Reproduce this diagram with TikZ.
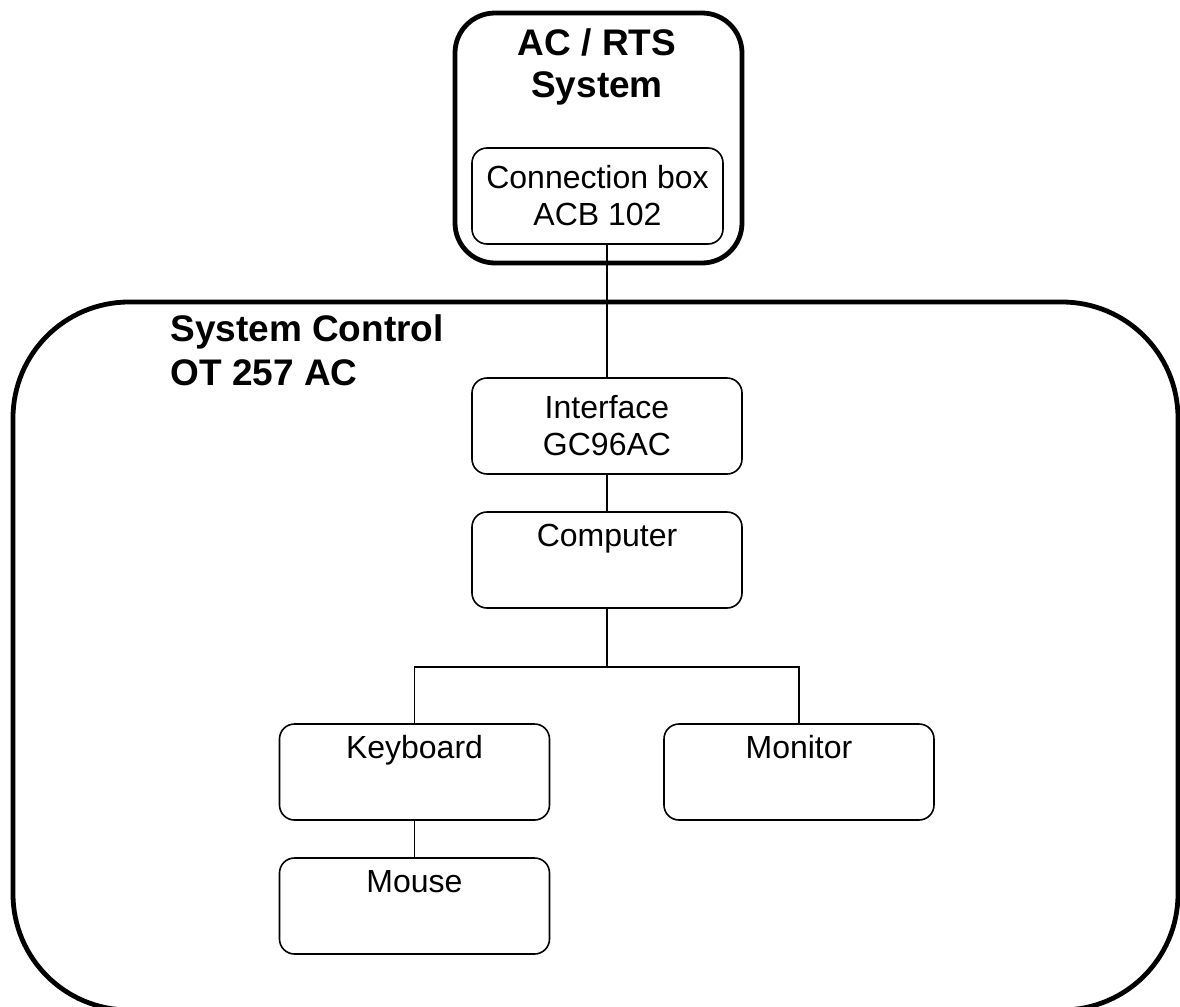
\documentclass[tikz,border=0pt]{standalone}
\usepackage{fontspec}
\setmainfont{Liberation Sans}

\begin{document}
\begin{tikzpicture}[
            x=0.5pt, y=-0.5pt,
            every node/.append style={black},
            link/.style={draw, line width=0.8pt},
            box/.style={draw, line width=0.8pt, rounded corners=7.5pt,
                        minimum width=135pt, minimum height=48pt, align=center,
                        font=\fontsize{16pt}{18.5pt}\selectfont},
            unit/.style={box, inner ysep=0pt, text height=17.3pt, text depth=30.7pt},
            frame/.style={draw, line width=2.4pt},
            title/.style={inner sep=0pt, font=\fontsize{18.5pt}{21pt}\selectfont\bfseries}
        ]
            \useasboundingbox (0,0) rectangle (1180,1007);

            % AC / RTS system with its connection box
            \node[frame, rounded corners=20pt, minimum width=143.5pt, minimum height=125pt] (rts) at (598.5,138) {};
            \node[title, align=center] (rtsname) at (597,67) {AC / RTS\\System};
            \node[box, minimum width=125.5pt] (conn) at (597.5,196) {Connection box\\ACB 102};

            % system control
            \node[frame, rounded corners=58pt, minimum width=582.5pt, minimum height=354pt] (ctrl) at (595.5,656) {};
            \node[title, font=\fontsize{18.5pt}{22pt}\selectfont\bfseries, align=left, anchor=west] (ctrlname) at (170,350) {System Control\\OT 257 AC};

            \node[box]  (iface) at (607,426) {Interface\\GC96AC};
            \node[unit] (comp)  at (607,560) {Computer};
            \node[unit] (kbd)   at (414.5,772) {Keyboard};
            \node[unit] (mon)   at (799,772) {Monitor};
            \node[unit] (mouse) at (414.5,906) {Mouse};

            \coordinate (split) at (607,667);

            \draw[link] (iface.north |- conn.south) -- (iface.north);
            \draw[link] (iface) -- (comp);
            \draw[link] (comp.south) -- (split);
            \draw[link] (kbd.north) |- (split) -| (mon.north);
            \draw[link] (kbd) -- (mouse);
        \end{tikzpicture}
\end{document}
